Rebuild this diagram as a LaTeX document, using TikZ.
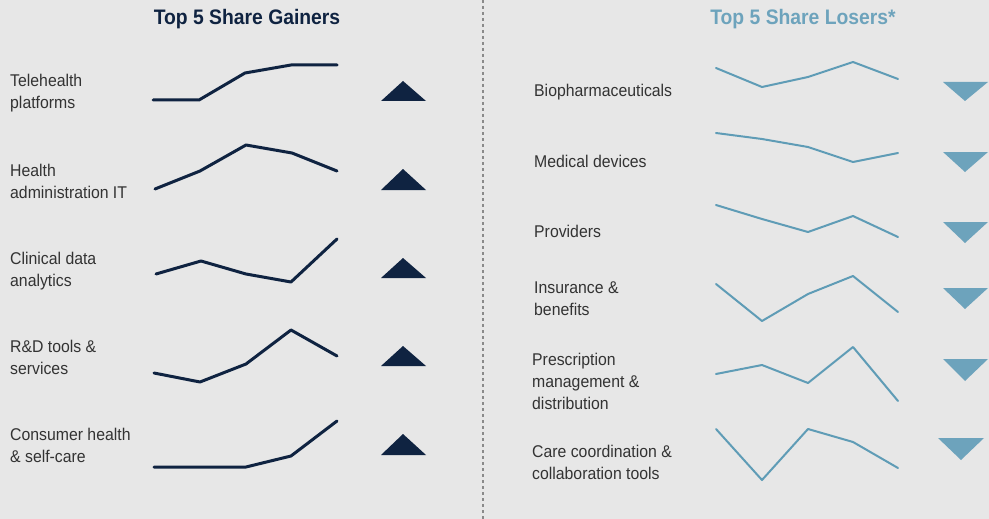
\documentclass[tikz,border=0pt]{standalone}
\usepackage{fontspec}
\setmainfont{Liberation Sans}
\newfontfamily\labfont[FakeStretch=0.93]{Liberation Sans}
\newfontfamily\titfont[FakeStretch=0.92]{Liberation Sans}
\definecolor{navy}{HTML}{0F2341}
\definecolor{steel}{HTML}{5F9CB6}
\definecolor{steeltri}{HTML}{6DA3BC}
\definecolor{labgray}{HTML}{333333}
\definecolor{bgc}{HTML}{E7E7E7}
\definecolor{dashc}{HTML}{8A8A8A}
\tikzset{
  lab/.style={anchor=base west, inner sep=0pt, align=left, text=labgray,
    font=\labfont\fontsize{17}{22}\selectfont},
  ttl/.style={anchor=base, inner sep=0pt, font=\titfont\bfseries\fontsize{21}{24}\selectfont},
  gainline/.style={draw=navy, line width=3pt, line join=round, line cap=round},
  loseline/.style={draw=steel, line width=2pt, line join=round, line cap=round},
  uptri/.style={fill=navy},
  dntri/.style={fill=steeltri},
  divider/.style={draw=dashc, line width=1.5pt, dash pattern=on 3pt off 3pt}
}
\begin{document}
\begin{tikzpicture}[x=1pt,y=-1pt]
\fill[bgc] (0,0) rectangle (989,519);
\useasboundingbox (0,0) rectangle (989,519);
% divider
\coordinate (dtop) at (483,0);
\coordinate (dbot) at (483,519);
\draw[divider] (dtop) -- (dbot);
% titles
\node[ttl, text=navy] (tg) at (247,25) {Top 5 Share Gainers};
\node[ttl, text=steeltri] (tl) at (803,25) {Top 5 Share Losers*};
% left labels (y = baseline of last line)
\node[lab] (g1) at (10,109) {Telehealth\\platforms};
\node[lab] (g2) at (10,198) {Health\\administration IT};
\node[lab] (g3) at (10,286) {Clinical data\\analytics};
\node[lab] (g4) at (10,374) {R\&D tools \&\\services};
\node[lab] (g5) at (10,462) {Consumer health\\\& self-care};
% right labels
\node[lab] (l1) at (534,97) {Biopharmaceuticals};
\node[lab] (l2) at (534,167) {Medical devices};
\node[lab] (l3) at (534,237) {Providers};
\node[lab] (l4) at (534,315) {Insurance \&\\benefits};
\node[lab] (l5) at (532,409) {Prescription\\management \&\\distribution};
\node[lab] (l6) at (532,479) {Care coordination \&\\collaboration tools};
% gainers sparklines
\draw[gainline] (153,100) -- (199,100) -- (245,73) -- (291,65) -- (337,65);
\draw[gainline] (155,189) -- (200,171) -- (246,145) -- (292,153) -- (337,171);
\draw[gainline] (156,274) -- (201,261) -- (246,274) -- (291,282) -- (337,239);
\draw[gainline] (154,373) -- (200,382) -- (246,364) -- (291,330) -- (337,356);
\draw[gainline] (154,467) -- (200,467) -- (246,467) -- (291,456) -- (337,421);
% losers sparklines
\draw[loseline] (716,68) -- (762,87) -- (808,77) -- (853,62) -- (898,79);
\draw[loseline] (716,133) -- (762,139) -- (808,147) -- (853,162) -- (898,153);
\draw[loseline] (716,205) -- (762,219) -- (808,232) -- (853,216) -- (898,237);
\draw[loseline] (716,284) -- (762,321) -- (808,294) -- (853,276) -- (898,312);
\draw[loseline] (716,374) -- (762,365) -- (808,383) -- (853,347) -- (898,401);
\draw[loseline] (716,429) -- (762,480) -- (808,429) -- (853,442) -- (898,468);
% up triangles
\fill[uptri] (381,101) -- (403,81) -- (426,101) -- cycle;
\fill[uptri] (381,190) -- (403,169) -- (426,190) -- cycle;
\fill[uptri] (381,278) -- (403,258) -- (426,278) -- cycle;
\fill[uptri] (381,366) -- (403,346) -- (426,366) -- cycle;
\fill[uptri] (381,455) -- (403,434) -- (426,455) -- cycle;
% down triangles
\fill[dntri] (943,82) -- (988,82) -- (965,101) -- cycle;
\fill[dntri] (943,152) -- (988,152) -- (965,172) -- cycle;
\fill[dntri] (943,222) -- (988,222) -- (965,243) -- cycle;
\fill[dntri] (943,288) -- (988,288) -- (965,309) -- cycle;
\fill[dntri] (943,359) -- (988,359) -- (965,381) -- cycle;
\fill[dntri] (938,438) -- (984,438) -- (961,460) -- cycle;
\end{tikzpicture}
\end{document}
